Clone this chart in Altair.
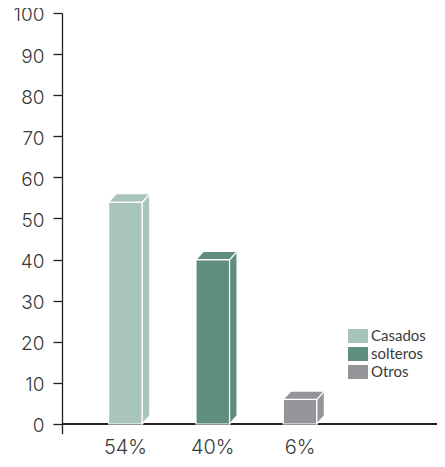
import altair as alt
import pandas as pd

# data
categories = ["Casados", "solteros", "Otros"]
values = [54, 40, 6]
labels = ["54%", "40%", "6%"]
colors = ["#a9c4ba", "#5f8e7c", "#949599"]

# layout / style constants
W, H = 375, 420.7
SLOT = 87.3            # px between bar centres
PX_PER_UNIT = 4.11     # px per y unit
X_MAX = W / SLOT
FIRST = 0.727          # centre of first bar in slot units
HALF = 16.8 / SLOT     # half bar width
DX = 7.5 / SLOT        # depth, x
DY = 8.3 / PX_PER_UNIT # depth, y
Y_MIN = -9.7 / PX_PER_UNIT

front = pd.DataFrame({
    "cat": categories,
    "v": values,
    "label": labels,
    "c": [FIRST + i for i in range(len(values))],
})
front["x0"] = front["c"] - HALF
front["x1"] = front["c"] + HALF
front["zero"] = 0.0

side_rows, top_rows = [], []
for k, v, x0, x1 in zip(front["cat"], front["v"], front["x0"], front["x1"]):
    side_rows.append({"cat": k, "x": x1, "y": v, "y2": 0.0})
    side_rows.append({"cat": k, "x": x1 + DX, "y": v + DY, "y2": DY})
    top_rows.append({"cat": k, "y": v, "x": x0, "x2": x1})
    top_rows.append({"cat": k, "y": v + DY, "x": x0 + DX, "x2": x1 + DX})
side = pd.DataFrame(side_rows)
top = pd.DataFrame(top_rows)

xs = alt.Scale(domain=[0, X_MAX], nice=False, zero=False)
ys = alt.Scale(domain=[Y_MIN, 100], nice=False, zero=False)

color = alt.Color(
    "cat:N",
    scale=alt.Scale(domain=categories, range=colors),
    legend=alt.Legend(
        title=None,
        orient="none",
        legendX=286,
        legendY=313,
        symbolType="M-1,-0.7H1V0.7H-1Z",
        symbolSize=400,
        symbolStrokeWidth=0,
        labelFont="Lato",
        labelFontSize=15,
        labelColor="#3a3a3a",
        labelOffset=3,
        rowPadding=0,
        padding=0,
    ),
)

yaxis = alt.Axis(
    values=list(range(0, 101, 10)),
    grid=False,
    domainColor="#231f20",
    domainWidth=1.3,
    tickColor="#231f20",
    tickWidth=1.3,
    tickSize=9,
    labelFont="Inter",
    labelFontWeight=300,
    labelFontSize=19,
    labelColor="#3a3a3a",
    labelPadding=9,
    labelOffset=2,
    title=None,
)

base_line = alt.Chart(front).mark_rule(color="#231f20", strokeWidth=1.3).encode(
    y=alt.Y("zero:Q", scale=ys, axis=yaxis),
    x=alt.value(0),
    x2=alt.value(W),
)

bars = alt.Chart(front).mark_rect(stroke="white", strokeWidth=1.2).encode(
    x=alt.X("x0:Q", scale=xs, axis=None),
    x2="x1:Q",
    y=alt.Y("v:Q", scale=ys, axis=yaxis),
    y2="zero:Q",
    color=color,
)

sides = alt.Chart(side).mark_area(stroke="white", strokeWidth=1.2, opacity=1).encode(
    x=alt.X("x:Q", scale=xs, axis=None),
    y=alt.Y("y:Q", scale=ys, axis=yaxis),
    y2="y2:Q",
    detail="cat:N",
    color=color,
)

tops = alt.Chart(top).mark_area(orient="horizontal", stroke="white", strokeWidth=1.2, opacity=1).encode(
    y=alt.Y("y:Q", scale=ys, axis=yaxis),
    x=alt.X("x:Q", scale=xs, axis=None),
    x2="x2:Q",
    detail="cat:N",
    color=color,
)

text = alt.Chart(front).mark_text(
    font="Inter", fontWeight=300, fontSize=20, color="#3a3a3a", baseline="alphabetic", align="center"
).encode(
    x=alt.X("c:Q", scale=xs, axis=None),
    y=alt.value(H + 20),
    text="label:N",
)

chart = alt.layer(base_line, bars, sides, tops, text).properties(
    width=W,
    height=H,
    background="white",
    autosize=alt.AutoSizeParams(type="none"),
    padding={"left": 54, "top": 5, "right": 0, "bottom": 25},
).configure_view(stroke=None)

chart.save("out.html", embed_options={"renderer": "svg", "actions": False})
